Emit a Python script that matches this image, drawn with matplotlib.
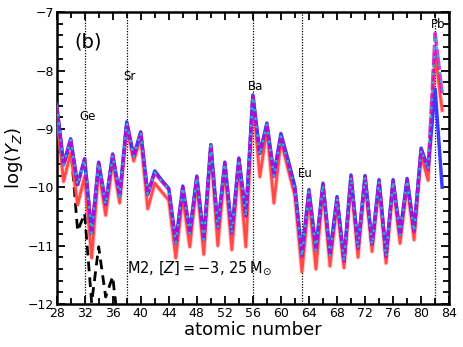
import matplotlib
matplotlib.use("Agg")
import matplotlib.pyplot as plt
from matplotlib.ticker import MultipleLocator

Z = list(range(28, 84))

magenta = [-8.6, -9.62, -9.19, -9.96, -9.53, -10.79, -9.59, -10.3, -9.45, -10.16,
           -8.9, -9.48, -9.07, -10.13, -9.75, -9.9, -10.04, -10.96, -10.0, -10.79,
           -9.83, -10.9, -9.29, -10.7, -9.59, -10.79, -9.52, -10.5, -8.45, -9.45,
           -8.93, -9.82, -9.13, -9.58, -10.05, -11.19, -10.08, -11.08, -9.96, -11.17,
           -10.19, -11.27, -9.82, -11.05, -9.82, -10.99, -9.9, -11.19, -9.9, -10.82,
           -9.88, -10.76, -9.36, -9.7, -7.36, -8.39]

cyan = [-8.6, -9.62, -9.19, -9.96, -9.53, -10.79, -9.59, -10.3, -9.45, -10.16,
        -8.9, -9.48, -9.07, -10.13, -9.75, -9.9, -10.04, -10.96, -10.0, -10.79,
        -9.83, -10.9, -9.29, -10.7, -9.59, -10.79, -9.52, -10.5, -8.45, -9.45,
        -8.93, -9.82, -9.13, -9.58, -10.05, -11.19, -10.08, -11.08, -9.96, -11.17,
        -10.19, -11.27, -9.82, -11.05, -9.82, -10.99, -9.9, -11.19, -9.9, -10.82,
        -9.88, -10.76, -9.36, -9.7, -7.4, -8.35]

blue = [-8.58, -9.6, -9.17, -9.95, -9.51, -10.78, -9.57, -10.28, -9.43, -10.15,
        -8.88, -9.46, -9.05, -10.12, -9.72, -9.88, -10.02, -10.94, -9.98, -10.77,
        -9.81, -10.88, -9.27, -10.68, -9.57, -10.77, -9.5, -10.48, -8.42, -9.42,
        -8.9, -9.78, -9.08, -9.52, -9.99, -11.15, -10.04, -11.05, -9.93, -11.14,
        -10.16, -11.24, -9.79, -11.02, -9.8, -10.97, -9.87, -11.16, -9.87, -10.79,
        -9.85, -10.73, -9.33, -9.67, -8.32, -10.0]

red = [-8.75, -9.9, -9.41, -10.3, -9.82, -11.21, -9.7, -10.48, -9.56, -10.27,
       -8.98, -9.55, -9.15, -10.37, -9.93, -10.08, -10.22, -11.21, -10.17, -11.02,
       -9.93, -11.15, -9.34, -11.0, -9.7, -11.07, -9.62, -11.02, -8.5, -9.82,
       -9.0, -10.27, -9.2, -9.68, -10.15, -11.45, -10.2, -11.4, -10.05, -11.35,
       -10.3, -11.38, -9.92, -11.2, -9.9, -11.1, -9.98, -11.3, -9.98, -10.96,
       -9.97, -10.9, -9.45, -9.88, -7.71, -8.68]

Z_black = [28, 29, 30, 31, 32, 33, 34, 35, 36, 37]
black = [-8.6, -9.62, -9.25, -10.75, -10.45, -11.98, -11.02, -11.88, -11.53, -12.6]

elem_Z = [32, 38, 56, 63, 82]
elem_names = ["Ge", "Sr", "Ba", "Eu", "Pb"]
elem_label_y = [-8.78, -8.1, -8.28, -9.77, -7.22]

fig = plt.figure(figsize=(4.64, 3.47), dpi=100)
ax = fig.add_axes([0.122, 0.124, 0.846, 0.841])

for z in elem_Z:
    ax.axvline(z, color="black", ls=(0, (1, 1.2)), lw=0.9, zorder=1)

ax.plot(Z_black, black, color="black", ls=(0, (3.5, 2.2)), lw=2.0, zorder=2)
ax.plot(Z, red, color="#ff4a4a", lw=3.4, alpha=0.3, zorder=3)
ax.plot(Z, red, color="#ff4a4a", lw=2.0, zorder=3)
ax.plot(Z, blue, color="#3a3aff", lw=2.5, zorder=4)
ax.plot(Z, magenta, color="#d000d0", lw=2.5, alpha=0.75, ls=(0, (6, 1)), zorder=5)
ax.plot(Z, cyan, color="#20b8b8", lw=1.8, ls=(0, (1, 2.4)), zorder=6)

for z, name, yy in zip(elem_Z, elem_names, elem_label_y):
    ax.text(z + 0.45, yy, name, ha="center", va="center", fontsize=8.5)

ax.text(32.5, -7.52, "(b)", ha="center", va="center", fontsize=14)
ax.text(38.1, -11.38, r"M2, $[Z]=-3$, 25$\,\mathrm{M}_{\odot}$", ha="left",
        va="center", fontsize=10.5)

ax.set_xlim(28, 84)
ax.set_ylim(-12, -7)
ax.xaxis.set_major_locator(MultipleLocator(4))
ax.xaxis.set_minor_locator(MultipleLocator(2))
ax.yaxis.set_major_locator(MultipleLocator(1))
ax.yaxis.set_minor_locator(MultipleLocator(0.2))
ax.tick_params(which="both", direction="in", top=True, right=True, width=1.3)
ax.tick_params(which="major", length=6, labelsize=9, pad=2)
ax.tick_params(which="minor", length=4)
for s in ax.spines.values():
    s.set_linewidth(1.8)

ax.set_xlabel("atomic number", fontsize=13, labelpad=1)
ax.set_ylabel(r"$\log(Y_Z)$", fontsize=13, labelpad=2)

fig.savefig("out.png", dpi=100)
